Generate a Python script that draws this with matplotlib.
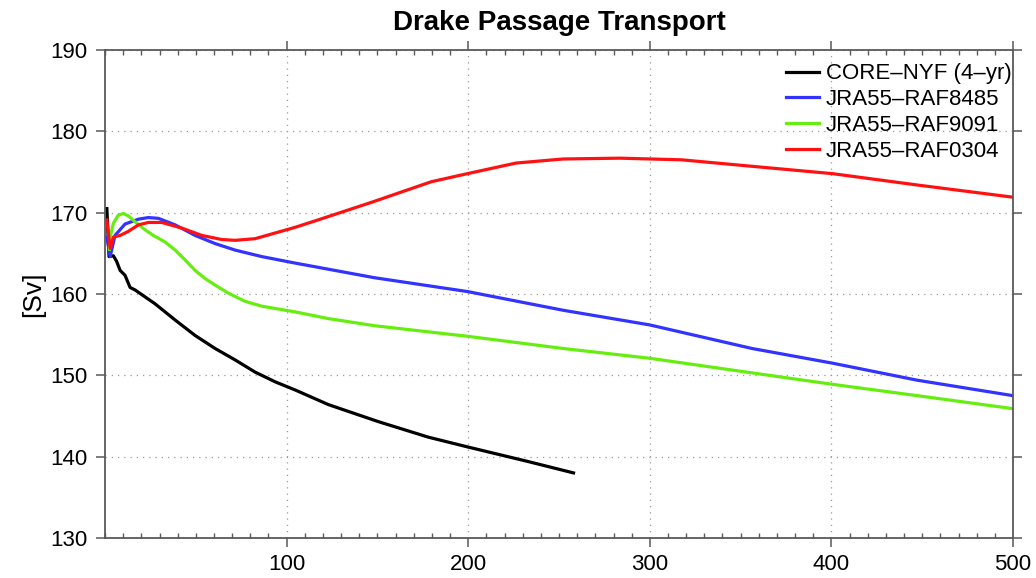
import matplotlib
matplotlib.use("Agg")
from matplotlib import pyplot as plt
from matplotlib.ticker import MultipleLocator

plt.rcParams['font.family'] = ['Liberation Sans', 'DejaVu Sans']

# CORE-NYF (4-yr)
core_x = [1, 2.2, 4.6, 6.4, 8.3, 11, 13.8, 16.5, 27.5, 38.6, 49.6, 60.6, 71.6, 82.6, 93.7, 104.7,
          123, 150.6, 178, 199.6, 233, 258]
core_y = [170.5, 164.6, 164.7, 164.0, 162.9, 162.3, 160.8, 160.5, 158.8, 156.8, 154.9, 153.3, 151.9,
          150.4, 149.2, 148.2, 146.4, 144.3, 142.4, 141.2, 139.4, 138.0]

# JRA55-RAF8485
raf8485_x = [1, 2.8, 5.5, 11, 14.7, 18.4, 23.9, 29.4, 38.6, 49.6, 60.6, 71.6, 86.3, 104.7, 148.4,
             199.6, 252.3, 299.9, 356.3, 400.5, 447.3, 500]
raf8485_y = [167.0, 164.6, 167.2, 168.6, 168.9, 169.2, 169.4, 169.3, 168.5, 167.2, 166.2, 165.4, 164.6,
             163.8, 162.0, 160.3, 158.0, 156.2, 153.3, 151.5, 149.4, 147.5]

# JRA55-RAF9091
raf9091_x = [2.4, 2.8, 4.6, 7.3, 10.1, 12.8, 17.5, 22, 26.6, 33, 38.6, 44, 49.6, 55.1, 60.6, 67.9,
             77.1, 86.3, 104.7, 122.4, 148.4, 199.6, 252.3, 299.9, 356.3, 400.5, 447.3, 500]
raf9091_y = [165.5, 167.0, 168.7, 169.7, 169.9, 169.6, 168.7, 167.9, 167.2, 166.4, 165.4, 164.2, 162.9,
             161.9, 161.1, 160.1, 159.1, 158.5, 157.8, 157.0, 156.1, 154.8, 153.3, 152.1, 150.3, 148.9,
             147.5, 145.9]

# JRA55-RAF0304
raf0304_x = [1, 2.8, 4.6, 8.3, 12.8, 18.4, 23.9, 31.2, 42.3, 53.3, 64.3, 71.6, 82.6, 93.7, 104.7,
             117.2, 147.1, 158.8, 179.6, 199.6, 226.3, 252.3, 283.5, 317.4, 356.3, 400.5, 447.3, 500]
raf0304_y = [169.1, 165.6, 167.0, 167.2, 167.7, 168.5, 168.8, 168.8, 168.1, 167.2, 166.7, 166.6, 166.8,
             167.5, 168.2, 169.1, 171.3, 172.2, 173.8, 174.8, 176.1, 176.6, 176.7, 176.5, 175.7, 174.8,
             173.4, 171.9]

fig = plt.figure(figsize=(10.36, 5.78), dpi=100)
ax = fig.add_axes([0.1014, 0.0692, 0.8764, 0.8443])

lw = 2.3
ax.plot(core_x, core_y, color='black', lw=lw, label='CORE\u2013NYF (4\u2013yr)')
ax.plot(raf8485_x, raf8485_y, color='#3333ff', lw=lw, label='JRA55\u2013RAF8485')
ax.plot(raf9091_x, raf9091_y, color='#66ee11', lw=lw, label='JRA55\u2013RAF9091')
ax.plot(raf0304_x, raf0304_y, color='#ff1111', lw=lw, label='JRA55\u2013RAF0304')

ax.set_xlim(0, 500)
ax.set_ylim(130, 190)
ax.set_xticks([100, 200, 300, 400, 500])
ax.set_yticks(range(130, 191, 10))
ax.xaxis.set_minor_locator(MultipleLocator(10))

ax.tick_params(which='major', direction='out', length=6.5, width=1.1, color='0.35',
               top=True, right=True, labelsize=16, pad=6)
ax.tick_params(axis='x', which='major', pad=5)
ax.tick_params(which='minor', direction='in', length=3.5, width=1.0, color='0.35',
               top=True, bottom=True)
for s in ax.spines.values():
    s.set_color('0.35')
    s.set_linewidth(1.3)

ax.grid(True, which='major', color='0.6', lw=0.9, linestyle=(0, (1, 4)))

ax.set_ylabel('[Sv]', fontsize=19, labelpad=4)
fig.text(559 / 1036, 1 - 30 / 578, 'Drake Passage Transport', ha='center', va='baseline',
         fontsize=20, fontweight='bold')

ax.legend(loc='upper right', bbox_to_anchor=(1.0, 0.975), frameon=False, fontsize=16,
          handlelength=1.5, handletextpad=0.3, labelspacing=0.22, borderaxespad=0.0,
          borderpad=0.05)

plt.savefig('out.png', dpi=100)
plt.close()
